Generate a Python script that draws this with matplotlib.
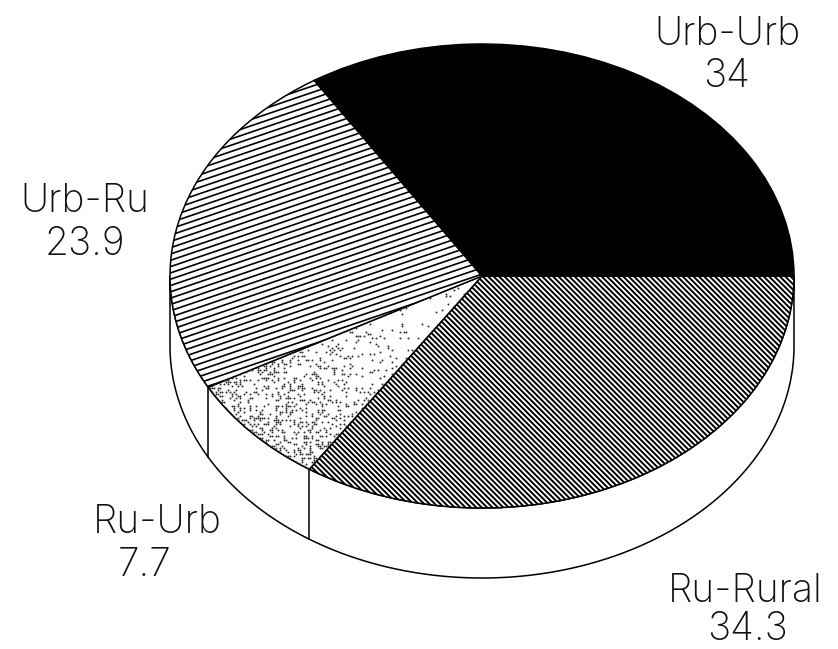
import numpy as np
import matplotlib
matplotlib.use("Agg")
import matplotlib.pyplot as plt
from matplotlib.collections import LineCollection
from matplotlib.patches import Polygon

categories = ["Ru-Rural", "Ru-Urb", "Urb-Ru", "Urb-Urb"]
values = [34.3, 7.7, 23.9, 34.0]
value_labels = ["34.3", "7.7", "23.9", "34"]

W, H = 838, 649
cx, cy, rx, ry = 482, 276, 312, 232
depth = 70 / ry


def to_data(x, y):
    # picture pixels -> pie units
    return (np.asarray(x) - cx) / rx, (cy - np.asarray(y)) / ry


fig = plt.figure(figsize=(W / 100, H / 100), dpi=100)
ax = fig.add_axes([0, 0, 1, 1])

wedges, _ = ax.pie(values, startangle=0, counterclock=False,
                   colors=["white", "white", "white", "black"],
                   wedgeprops=dict(edgecolor="black", linewidth=1.1, zorder=3))
ax.set_aspect("auto")
ax.set_xlim(to_data(0, 0)[0], to_data(W, 0)[0])
ax.set_ylim(to_data(0, H)[1], to_data(0, 0)[1])
ax.axis("off")

# side wall
t = np.linspace(np.pi, 2 * np.pi, 300)
wall = np.column_stack((np.r_[np.cos(t), np.cos(t[::-1])],
                        np.r_[np.sin(t), np.sin(t[::-1]) - depth]))
ax.add_patch(Polygon(wall, closed=True, fc="white", ec="black", lw=1.1, zorder=1))
bounds = -np.cumsum(values) / np.sum(values) * 2 * np.pi
for b in bounds[:2]:
    ax.plot([np.cos(b)] * 2, [np.sin(b), np.sin(b) - depth], color="black", lw=1.1, zorder=2)


def hatch(wedge, slope, spacing, lw):
    # parallel lines, clipped to the wedge
    segs = []
    for c in np.arange(-1200, 1600, spacing):
        x = np.array([0, W])
        y = c - slope * x
        segs.append(np.column_stack(to_data(x, y)))
    lc = LineCollection(segs, colors="black", linewidths=lw, zorder=4)
    ax.add_collection(lc, autolim=False)
    lc.set_clip_path(wedge)


hatch(wedges[0], -1.0, 5.4, 1.4)
hatch(wedges[2], 0.34, 6.3, 1.2)

# stipple in Ru-Urb, thinning toward the centre
xs, ys = np.meshgrid(np.arange(200, 490, 2.0), np.arange(270, 480, 2.0))
xs, ys = xs.ravel(), ys.ravel()
ux, uy = to_data(xs, ys)
r = np.hypot(ux, uy)
pick = (np.sin(xs * 12.9898 + ys * 78.233) * 43758.5453) % 1
keep = pick < np.clip(0.05 + 0.45 * (r - 0.45), 0.05, 0.4)
dots = ax.scatter(ux[keep], uy[keep], s=2.0, color="#333333", linewidths=0, zorder=4)
dots.set_clip_path(wedges[1])

label_pos = [(745, 602, 747, 640), (157, 533, 145, 576), (85, 212, 85, 255), (727, 45, 727, 87)]
for name, val, (x1, y1, x2, y2) in zip(categories, value_labels, label_pos):
    a, b = to_data(x1, y1)
    ax.text(a, b, name, ha="center", va="baseline", fontsize=28, family="Inter",
            fontweight=200, color="#111111")
    a, b = to_data(x2, y2)
    ax.text(a, b, val, ha="center", va="baseline", fontsize=28, family="Inter",
            fontweight=200, color="#111111")

fig.savefig("out.png", dpi=100)
